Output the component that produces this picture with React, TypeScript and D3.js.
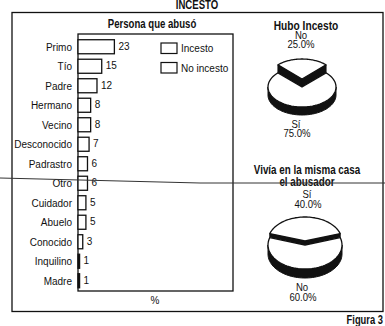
import * as d3 from "d3";

// Persona que abusó
const categories = ["Primo", "Tío", "Padre", "Hermano", "Vecino", "Desconocido", "Padrastro", "Otro", "Cuidador", "Abuelo", "Conocido", "Inquilino", "Madre"];
const counts = [23, 15, 12, 8, 8, 7, 6, 6, 5, 5, 3, 1, 1];
const legendLabels = ["Incesto", "No incesto"];

// Hubo Incesto (first slice is pulled out)
const incestoLabels = ["No", "Sí"];
const incestoValues = [25, 75];

// Vivía en la misma casa el abusador
const viviaLabels = ["Sí", "No"];
const viviaValues = [40, 60];

const FONT = "'Liberation Sans', Arial, sans-serif";
const INK = "#111";

// narrow text: Arial squeezed sideways, like the Arial Narrow of the original
function T({ x, y, size = 11.5, bold = false, anchor = "start", sx = 0.87, children }: any) {
  return (
    <text
      transform={"translate(" + x + "," + y + ") scale(" + sx + ",1)"}
      textAnchor={anchor}
      fontSize={size}
      fontWeight={bold ? "bold" : "normal"}
      fill={INK}
    >
      {children}
    </text>
  );
}

type PieProps = {
  values: number[];
  cx: number;
  cy: number;
  rx: number;
  ry: number;
  depth: number;
  explode: number;
  striped?: boolean;
};

function Pie3D({ values, cx, cy, rx, ry, depth, explode, striped }: PieProps) {
  const share = values[0] / d3.sum(values);
  const half = share * Math.PI;
  // slice 0 centred on top
  const arcs = d3.pie<number>().sort(null).startAngle(-half).endAngle(2 * Math.PI - half)(values);

  const pt = (a: number, dy: number) => [cx + rx * Math.sin(a), cy + dy - ry * Math.cos(a)];
  const ring = (a0: number, a1: number, dy: number) =>
    d3.range(0, 61).map((i) => pt(a0 + ((a1 - a0) * i) / 60, dy));

  const line = d3.line();

  const parts = arcs.map((d, i) => {
    const dy = i === 0 ? -explode : 0;
    const top = "M" + cx + "," + (cy + dy) + "L" + ring(d.startAngle, d.endAngle, dy).map((p) => p.join(",")).join("L") + "Z";

    // outer wall on the front half
    const walls: string[] = [];
    for (const k of [-1, 0, 1]) {
      const lo = Math.max(d.startAngle, Math.PI / 2 + 2 * Math.PI * k);
      const hi = Math.min(d.endAngle, (3 * Math.PI) / 2 + 2 * Math.PI * k);
      if (hi > lo) {
        const upper = ring(lo, hi, dy);
        const lower = ring(lo, hi, dy + depth).reverse();
        walls.push(line([...upper, ...lower] as [number, number][]) + "Z");
      }
    }

    // cut faces that turn toward the viewer
    const faces: [number, number][][] = [];
    const c: [number, number] = [cx, cy + dy];
    const cDown: [number, number] = [cx, cy + dy + depth];
    if (Math.sin(d.startAngle) < 0) {
      const p = pt(d.startAngle, dy);
      faces.push([c, p as [number, number], [p[0], p[1] + depth], cDown]);
    }
    if (Math.sin(d.endAngle) > 0) {
      const p = pt(d.endAngle, dy);
      faces.push([c, p as [number, number], [p[0], p[1] + depth], cDown]);
    }
    return { top, walls, faces, dy };
  });

  const drawSlice = (i: number) => {
    const s = parts[i];
    return (
      <g key={i}>
        {s.walls.map((w, j) => (
          <path key={"w" + j} d={w} fill={INK} stroke={INK} strokeWidth={1} />
        ))}
        {s.faces.map((f, j) => (
          <g key={"f" + j}>
            <path d={line(f) + "Z"} fill={INK} stroke={INK} strokeWidth={1} />
            {striped && (
              <path
                d={line([
                  [f[0][0], f[0][1] + depth / 2],
                  [f[1][0], f[1][1] + depth / 2],
                ])!}
                stroke="#ddd"
                strokeWidth={1.2}
              />
            )}
          </g>
        ))}
        <path d={s.top} fill="#fff" stroke={INK} strokeWidth={1.3} strokeLinejoin="round" />
      </g>
    );
  };

  // pulled slice sits behind, draw it first
  return (
    <g>
      {drawSlice(0)}
      {parts.slice(1).map((_, i) => drawSlice(i + 1))}
    </g>
  );
}

export default function App() {
  const W = 385;
  const H = 326;

  const plot = { left: 78, right: 233, top: 34, bottom: 291 };

  const x = d3.scaleLinear().domain([0, 98]).range([plot.left, plot.right]);
  const y = d3
    .scaleBand<string>()
    .domain(categories)
    .range([37, 290.5])
    .paddingInner(0.28)
    .paddingOuter(0.14);

  const pct = (v: number, all: number[]) => d3.format(".1f")((100 * v) / d3.sum(all)) + "%";

  return (
    <svg width={W} height={H} style={{ position: "absolute", left: 0, top: 0, background: "#fff" }} fontFamily={FONT}>
      <rect width={W} height={H} fill="#fff" />

      {/* main title, cut at the top of the scan */}
      <T x={197} y={8.5} size={12} bold anchor="middle" sx={0.8}>
        INCESTO
      </T>

      {/* outer frame */}
      <rect x={12} y={12.5} width={371} height={299} fill="none" stroke={INK} strokeWidth={1.3} />

      {/* bar chart */}
      <T x={152} y={28} size={12} bold anchor="middle" sx={0.8}>
        Persona que abusó
      </T>
      <rect
        x={plot.left}
        y={plot.top}
        width={plot.right - plot.left}
        height={plot.bottom - plot.top}
        fill="none"
        stroke={INK}
        strokeWidth={1.3}
      />
      {categories.map((c, i) => (
        <g key={c}>
          <rect
            x={x(0)}
            y={y(c)!}
            width={Math.max(x(counts[i]) - x(0), 1)}
            height={y.bandwidth()}
            fill={counts[i] < 2 ? INK : "#fff"}
            stroke={INK}
            strokeWidth={1.3}
          />
          <T x={72} y={y(c)! + y.bandwidth() / 2 + 4} anchor="end">
            {c}
          </T>
          <T x={x(counts[i]) + 4} y={y(c)! + y.bandwidth() / 2 + 3}>
            {counts[i]}
          </T>
        </g>
      ))}
      <T x={155} y={304} anchor="middle">
        %
      </T>

      {/* legend */}
      {legendLabels.map((l, i) => (
        <g key={l}>
          <rect x={161} y={43 + i * 19.5} width={16} height={10.5} fill="#fff" stroke={INK} strokeWidth={1.2} />
          <T x={181} y={52 + i * 19.5}>
            {l}
          </T>
        </g>
      ))}

      {/* Hubo Incesto */}
      <T x={306} y={30} size={12} bold anchor="middle" sx={0.85}>
        Hubo Incesto
      </T>
      <T x={301} y={39} size={11} anchor="middle">
        {incestoLabels[0]}
      </T>
      <T x={301} y={48} size={11} anchor="middle">
        {pct(incestoValues[0], incestoValues)}
      </T>
      <Pie3D values={incestoValues} cx={302} cy={87} rx={34} ry={20} depth={8} explode={8} />
      <T x={296} y={128} size={11} anchor="middle">
        {incestoLabels[1]}
      </T>
      <T x={297} y={137} size={11} anchor="middle">
        {pct(incestoValues[1], incestoValues)}
      </T>

      {/* Vivía en la misma casa el abusador */}
      <T x={307} y={174} size={12} bold anchor="middle" sx={0.82}>
        Vivía en la misma casa
      </T>
      <T x={307} y={186} size={12} bold anchor="middle" sx={0.82}>
        el abusador
      </T>
      <T x={307} y={198} size={11} anchor="middle">
        {viviaLabels[0]}
      </T>
      <T x={308} y={208} size={11} anchor="middle">
        {pct(viviaValues[0], viviaValues)}
      </T>
      <Pie3D values={viviaValues} cx={305} cy={245} rx={37} ry={24} depth={9} explode={4} striped />
      <T x={302} y={291} size={11} anchor="middle">
        {viviaLabels[1]}
      </T>
      <T x={303} y={301} size={11} anchor="middle">
        {pct(viviaValues[1], viviaValues)}
      </T>

      {/* stray line from the scanned page */}
      <path d="M0,178L200,183L385,183" fill="none" stroke="#333" strokeWidth={1} />

      <T x={383} y={324} size={12.5} bold anchor="end" sx={0.75}>
        Figura 3
      </T>
    </svg>
  );
}
